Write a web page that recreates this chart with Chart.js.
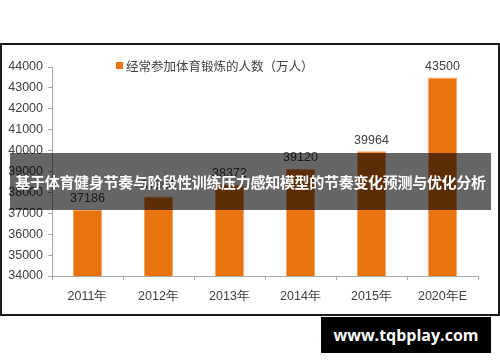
<!DOCTYPE html>
<html>
<head>
<meta charset="utf-8">
<script src="https://cdn.jsdelivr.net/npm/chart.js@4"></script>
<style>
  html, body { margin: 0; padding: 0; background: #fff; }
  #wrap { position: relative; width: 500px; height: 362px; }
  #band {
    position: absolute; left: 10px; top: 153px; width: 481px; height: 57px;
    background: rgba(0,0,0,0.6); color: #fff;
    font: bold 15px "Noto Sans CJK SC", sans-serif;
    line-height: 57px; text-align: center; white-space: nowrap; letter-spacing: -0.3px;
  }
  #mark {
    position: absolute; left: 321px; top: 317px; width: 170px; height: 36px;
    background: #000; color: #fff;
    font: bold 16px "Open Sans", sans-serif;
    line-height: 36px; text-align: center;
  }
</style>
</head>
<body>
<div id="wrap">
  <canvas id="c" width="500" height="362"></canvas>
  <div id="band">基于体育健身节奏与阶段性训练压力感知模型的节奏变化预测与优化分析</div>
  <div id="mark">www.tqbplay.com</div>
</div>
<script>
// ====== DATA ======
const years  = ['2011年', '2012年', '2013年', '2014年', '2015年', '2020年E'];
const people = [37186, 37800, 38372, 39120, 39964, 43500];
const seriesName = '经常参加体育锻炼的人数（万人）';
const yMin = 34000, yMax = 44000, yStep = 1000;

const ORANGE = '#E9730F';
const TXT = '#404040';
const FONT = 'Liberation Sans';

// frame, legend and value labels
const extras = {
  id: 'extras',
  afterDraw(chart) {
    const ctx = chart.ctx;
    ctx.save();
    // outer frame
    ctx.strokeStyle = '#1a1a1a';
    ctx.lineWidth = 2;
    ctx.strokeRect(1, 44, 498, 271);

    // legend
    ctx.fillStyle = ORANGE;
    ctx.fillRect(116, 62, 7, 7);
    ctx.fillStyle = TXT;
    ctx.font = '12.5px "Noto Sans CJK SC"';
    ctx.textBaseline = 'middle';
    ctx.textAlign = 'left';
    ctx.fillText(seriesName, 126, 66);

    // value labels
    ctx.font = '12.5px ' + FONT;
    ctx.textAlign = 'center';
    ctx.textBaseline = 'bottom';
    chart.getDatasetMeta(0).data.forEach((bar, i) => {
      ctx.fillText(people[i], bar.x, bar.y - 5);
    });
    ctx.restore();
  }
};

new Chart(document.getElementById('c'), {
  type: 'bar',
  data: {
    labels: years,
    datasets: [{
      label: seriesName,
      data: people,
      backgroundColor: ORANGE,
      borderColor: '#F6A66A',
      borderWidth: 1,
      categoryPercentage: 1,
      barPercentage: 0.41
    }]
  },
  options: {
    responsive: false,
    animation: false,
    layout: { padding: { top: 67, right: 22, bottom: 46, left: 0 } },
    plugins: { legend: { display: false }, tooltip: { enabled: false } },
    scales: {
      y: {
        min: yMin, max: yMax,
        afterFit: s => { s.width = 52; },
        ticks: { stepSize: yStep, color: TXT, font: { family: FONT, size: 12.5 }, padding: 5,
                 callback: v => String(v) },
        grid: { drawOnChartArea: false, tickLength: 4, color: '#A6A6A6' },
        border: { color: '#A6A6A6' }
      },
      x: {
        afterFit: s => { s.height = 40; },
        ticks: { color: TXT, font: { family: FONT, size: 12.5 }, padding: 9 },
        grid: { offset: true, drawOnChartArea: false, tickLength: 4, color: '#A6A6A6' },
        border: { color: '#A6A6A6' }
      }
    }
  },
  plugins: [extras]
});
</script>
</body>
</html>
